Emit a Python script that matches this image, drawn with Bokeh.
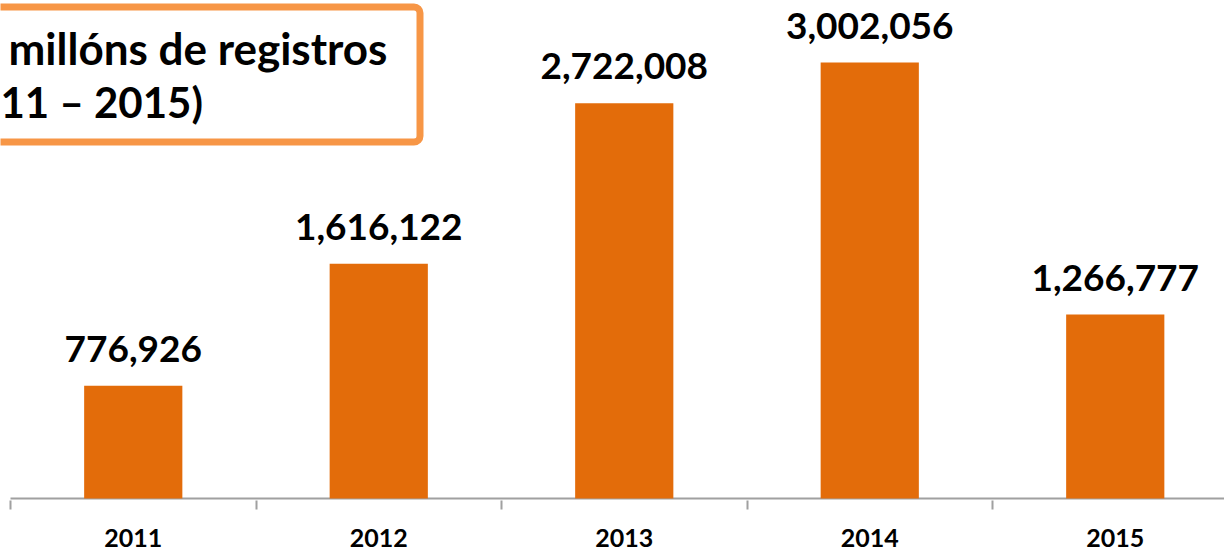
from bokeh.plotting import figure
from bokeh.models import ColumnDataSource, FixedTicker, BoxAnnotation, Label, Range1d
from bokeh.core.properties import value
from bokeh.embed import file_html
from bokeh.resources import INLINE

years = ["2011", "2012", "2013", "2014", "2015"]
registros = [776926, 1616122, 2722008, 3002056, 1266777]
title_lines = ["millóns de registros", "11 – 2015)"]

BAR = "#E36C0A"
GRAY = "#A0A0A0"
FONT = "Lato"

xs = [i + 0.5 for i in range(len(years))]
labels = [f"{v:,}" for v in registros]
src = ColumnDataSource(dict(x=xs, top=registros, label=labels))

W, H = 1224, 554
X0 = 10          # pixel of the first category boundary
BASE = 498       # pixel of the value zero
FRAME_BOTTOM = 500
cat_px = 245.5
px_per_unit = 436.0 / max(registros)

ystart = -(FRAME_BOTTOM - BASE) / px_per_unit
yend = BASE / px_per_unit

p = figure(width=W, height=H, output_backend="svg", toolbar_location=None,
           x_range=Range1d(-X0 / cat_px, (W - X0) / cat_px), y_range=Range1d(ystart, yend),
           min_border_left=0, min_border_right=0, min_border_top=0,
           min_border_bottom=H - FRAME_BOTTOM)
p.outline_line_color = None
p.grid.visible = False
p.yaxis.visible = False
p.background_fill_color = "white"
p.border_fill_color = "white"

# baseline (category axis line)
p.segment(x0=[0], y0=[0], x1=[len(years)], y1=[0], line_color=GRAY, line_width=2)

p.vbar(x="x", top="top", width=0.4, bottom=0, source=src, fill_color=BAR, line_color=None)
p.text(x="x", y="top", text="label", source=src, text_align="center",
       text_baseline="alphabetic", y_offset=-37, text_font=value(FONT),
       text_font_style="bold", text_font_size="37px", text_color="black")

ax = p.xaxis[0]
ax.ticker = FixedTicker(ticks=xs, minor_ticks=list(range(len(years) + 1)))
ax.major_label_overrides = {x: y for x, y in zip(xs, years)}
ax.major_tick_in = 0
ax.major_tick_out = 0
ax.minor_tick_in = 0
ax.minor_tick_out = 9
ax.minor_tick_line_color = GRAY
ax.minor_tick_line_width = 2
ax.axis_line_color = None
ax.major_label_text_font = FONT
ax.major_label_text_font_style = "bold"
ax.major_label_text_font_size = "25px"
ax.major_label_text_color = "black"
ax.major_label_standoff = 19

def ypx(py):
    return (BASE - py) / px_per_unit

def xpx(px):
    return (px - X0) / cat_px

box = BoxAnnotation(left=xpx(-40), right=xpx(419.5), top=ypx(6.5), bottom=ypx(141.5),
                    fill_color="white", fill_alpha=1.0, line_color="#F79646",
                    line_alpha=1.0, line_width=7, border_radius=6, level="underlay")
p.add_layout(box)
p.add_layout(Label(x=xpx(8), y=ypx(47), text=title_lines[0], text_font=FONT,
                   text_font_style="bold", text_font_size="44px", text_color="black",
                   text_baseline="alphabetic", level="overlay"))
p.add_layout(Label(x=xpx(0), y=ypx(101), text=title_lines[1], text_font=FONT,
                   text_font_style="bold", text_font_size="42px", text_color="black",
                   text_baseline="alphabetic", level="overlay"))

open("out.html", "w").write(file_html(p, INLINE))
